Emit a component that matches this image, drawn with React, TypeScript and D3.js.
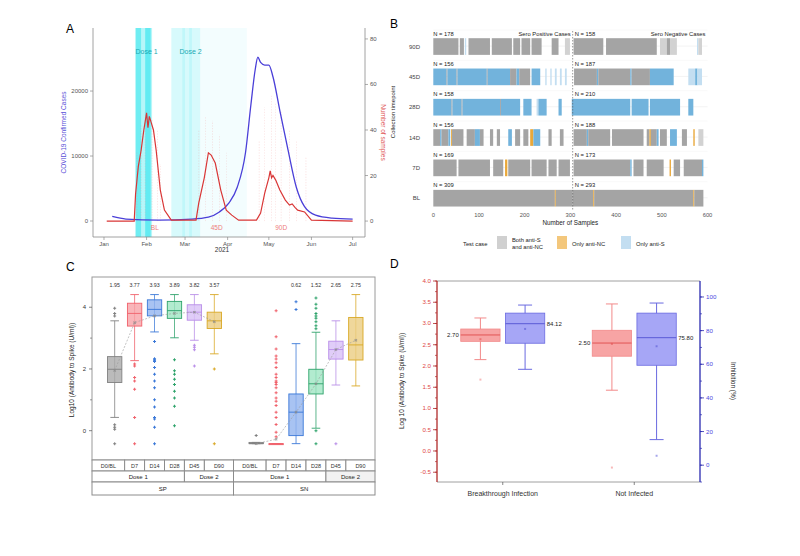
import React from "react";
import * as d3 from "d3";

const FONT = "'Liberation Sans', Arial, sans-serif";
const parse = d3.timeParse("%Y-%m-%d");

// ---------------- Panel A data ----------------
const caseDates = ["2021-01-07","2021-01-17","2021-02-10","2021-03-06","2021-03-18","2021-03-26","2021-04-02","2021-04-08","2021-04-14","2021-04-18","2021-04-21","2021-04-23","2021-04-25","2021-04-28","2021-05-01","2021-05-04","2021-05-09","2021-05-15","2021-05-21","2021-05-27","2021-06-04","2021-06-16","2021-07-01"];
const caseValues = [700,300,150,300,600,1400,2800,5200,10500,18000,23200,25200,24400,24000,24000,22200,17000,10900,5200,2200,900,450,300];
const sampleDates = ["2021-01-03","2021-01-23","2021-01-24","2021-01-26","2021-01-28","2021-01-30","2021-02-01","2021-02-02","2021-02-03","2021-02-04","2021-02-06","2021-02-08","2021-02-11","2021-02-14","2021-02-19","2021-03-09","2021-03-11","2021-03-15","2021-03-18","2021-03-20","2021-03-23","2021-03-27","2021-03-31","2021-04-04","2021-04-09","2021-04-22","2021-04-25","2021-04-28","2021-05-01","2021-05-02","2021-05-03","2021-05-04","2021-05-06","2021-05-09","2021-05-13","2021-05-16","2021-05-18","2021-05-20","2021-05-22","2021-05-27","2021-06-01","2021-07-01"];
const sampleValues = [0,0,12,24,31,40,47.5,41,46,44,40,31,13.6,4.8,0.4,0.4,8,19,30,29,25.5,13.6,4.8,2.6,0.4,0.4,3.5,12.3,19,22,19,20,18,13.6,9.2,7,7.5,6,4.8,4,0.4,0];
const monthTickDates = ["2021-01-01","2021-02-01","2021-03-01","2021-04-01","2021-05-01","2021-06-01","2021-07-01"];
const monthLabels = ["Jan","Feb","Mar","Apr","May","Jun","Jul"];
const casesTicks = [0, 10000, 20000];
const samplesTicks = [0, 20, 40, 60, 80];
const vaccBandStart = ["2021-01-24","2021-01-24","2021-01-31","2021-02-19","2021-02-27","2021-03-04","2021-03-12"];
const vaccBandEnd = ["2021-02-05","2021-01-28","2021-02-04","2021-03-12","2021-03-01","2021-03-06","2021-04-15"];
const vaccBandLevel = [2.2, 3, 3.5, 1.2, 0.8, 0.8, 0.35];
const doseLabels = ["Dose 1", "Dose 2"];
const doseLabelDates = ["2021-02-01", "2021-03-05"];
const collectLabels = ["BL", "45D", "90D"];
const collectLabelDates = ["2021-02-07", "2021-03-24", "2021-05-10"];
const sampleLineDates = ["2021-01-25","2021-01-28","2021-01-31","2021-02-05","2021-02-09","2021-02-11","2021-03-11","2021-03-16","2021-03-21","2021-03-26","2021-03-31","2021-04-24","2021-04-28","2021-05-03","2021-05-06","2021-05-10","2021-05-16","2021-05-21","2021-05-28"];
const sampleLineTops = [30,42,48,45,40,25,40,46,44,38,30,35,50,55,52,48,40,35,28];

// ---------------- Panel B data ----------------
const bRows = ["90D", "45D", "28D", "14D", "7D", "BL"];
const bNLeft = [178, 156, 158, 156, 169, 309];
const bNRight = [158, 187, 210, 188, 173, 293];
const bXTicks = [0, 100, 200, 300, 400, 500, 600];
const bSplit = 305;
const segs90D: [number, number, string][] = [[0,55,"g"],[58,67,"g"],[69,72,"lb"],[77,124,"g"],[128,172,"g"],[175,190,"g"],[193,212,"g"],[215,237,"g"],[259,274,"g"],[288,299,"l"],[307,372,"g"],[378,489,"g"],[496,511,"l"],[511,518,"g"],[518,533,"l"],[577,580,"lb"],[580,588,"l"]];
const segs45D: [number, number, string][] = [[0,29,"b"],[29,31,"g"],[31,51,"b"],[51,53,"g"],[53,117,"b"],[117,119,"g"],[119,168,"b"],[168,182,"g"],[182,188,"b"],[188,212,"g"],[215,234,"b"],[245,248,"lb"],[256,259,"lb"],[266,270,"lb"],[277,281,"lb"],[288,292,"lb"],[308,358,"g"],[358,361,"b"],[361,431,"g"],[431,434,"b"],[434,474,"g"],[474,526,"b"],[558,573,"lb"],[573,578,"b"],[578,588,"lb"]];
const segs28D: [number, number, string][] = [[0,40,"b"],[40,42,"g"],[42,62,"b"],[62,64,"g"],[64,146,"b"],[146,148,"g"],[148,190,"b"],[197,215,"b"],[226,230,"lb"],[230,248,"b"],[274,281,"b"],[303,431,"b"],[434,471,"b"],[474,540,"b"],[558,569,"b"]];
const segs14D: [number, number, string][] = [[0,15,"g"],[15,18,"b"],[18,33,"g"],[33,37,"b"],[39,41,"o"],[41,66,"g"],[73,91,"g"],[91,102,"b"],[102,110,"g"],[124,131,"g"],[139,146,"g"],[164,172,"b"],[179,190,"g"],[197,208,"g"],[212,219,"o"],[219,234,"b"],[252,259,"g"],[277,285,"g"],[307,336,"g"],[336,339,"b"],[339,387,"g"],[391,460,"g"],[467,473,"g"],[473,476,"o"],[476,489,"g"],[489,493,"b"],[496,511,"g"],[518,533,"b"],[544,555,"g"],[569,572,"o"],[580,591,"l"]];
const segs7D: [number, number, string][] = [[0,51,"g"],[55,124,"g"],[131,153,"g"],[157,162,"o"],[164,212,"g"],[215,248,"g"],[252,270,"g"],[274,299,"g"],[307,431,"g"],[431,434,"b"],[438,460,"g"],[467,504,"g"],[517,520,"o"],[526,540,"g"],[548,588,"g"],[588,591,"b"]];
const segsBL: [number, number, string][] = [[0,266,"g"],[266,268,"o"],[268,305,"g"],[305,350,"g"],[350,352,"o"],[352,569,"g"],[569,571,"o"],[571,591,"g"]];
const bSegs = [segs90D, segs45D, segs28D, segs14D, segs7D, segsBL];
const bColors: Record<string, string> = { g: "#a4a4a4", l: "#d2d2d2", o: "#e9a83a", b: "#72b3dc", lb: "#c3def1" };
const bLegendLabels = [["Both anti-S", "and anti-NC"], ["Only anti-NC"], ["Only anti-S"]];
const bLegendKeys = ["l", "oL", "lbL"];

// ---------------- Panel C data ----------------
const cGroups = ["SP", "SN"];
const cTimes = ["D0/BL", "D7", "D14", "D28", "D45", "D90"];
const cStroke = ["#808080", "#f0616b", "#3a78d8", "#2ea36b", "#b98ee8", "#d9a826"];
const cFill = ["#aaaaaa", "#f8a3a8", "#92b4ef", "#9fe6c3", "#d8c1f6", "#ebcd82"];
const spQ1 = [1.56, 3.39, 3.72, 3.64, 3.58, 3.31];
const spMed = [1.99, 3.8, 3.93, 3.89, 3.84, 3.56];
const spQ3 = [2.4, 4.13, 4.24, 4.19, 4.08, 3.84];
const spLo = [0.43, 2.27, 3.2, 3.01, 2.93, 2.49];
const spHi = [3.56, 4.41, 4.41, 4.41, 4.41, 4.41];
const spMean = [1.95, 3.5, 3.72, 3.8, 3.84, 3.53];
const spOut = [
  [3.97, 3.8, 3.72, 0.19, 0.11, 0.05, -0.42],
  [2.16, 2.1, 1.72, 1.61, 1.34, 0.43, -0.42],
  [2.89, 2.33, 2.3, 2.27, 2.24, 2.05, 1.83, 1.61, 1.39, 1.0, 0.77, 0.43, 0.38, 0.11, -0.42],
  [2.3, 1.94, 1.83, 1.67, 1.5, 1.28, 1.06, 0.79, 0.16],
  [2.77, 2.7, 2.62, 2.1],
  [2.0, -0.42],
];
const spLabels = ["1.95", "3.77", "3.93", "3.89", "3.82", "3.57"];
const snQ1 = [-0.42, -0.42, -0.16, 1.19, 2.32, 2.29];
const snMed = [-0.42, -0.42, 0.6, 1.52, 2.63, 2.78];
const snQ3 = [-0.38, -0.42, 1.19, 1.99, 2.9, 3.67];
const snLo = [-0.42, -0.42, -0.42, 0.08, 1.48, 1.45];
const snHi = [-0.38, -0.42, 2.82, 3.19, 3.56, 4.41];
const snMean = [-0.42, -0.28, 0.6, 1.52, 2.63, 2.93];
const snOut = [
  [-0.16],
  [3.89, 3.04, 2.65, 2.42, 2.32, 2.2, 2.05, 1.83, 1.72, 1.61, 1.56, 1.5, 1.39, 1.23, 1.06, 0.95, 0.82, 0.6, 0.43, 0.2, -0.05, -0.2],
  [4.18, 3.93],
  [4.3, 4.1, 3.97, 3.8, 3.72, 3.64, 3.53, 3.4, 3.3, 0.0, -0.42],
  [-0.42],
  [],
];
const snLabels = ["", "", "0.62", "1.52", "2.65", "2.75"];
const cYTicks = [0, 2, 4];
const cYMinor = [1, 3];
const cDoseSplit = 4; // first 4 timepoints are Dose 1

// ---------------- Panel D data ----------------
const dGroups = ["Breakthrough Infection", "Not Infected"];
const abQ1 = [2.58, 2.23], abMed = [2.73, 2.54], abQ3 = [2.87, 2.84], abLo = [2.15, 1.43], abHi = [3.13, 3.46], abMean = [2.63, 2.52];
const abOut = [[1.68], [-0.39]];
const abLabels = ["2.70", "2.50"];
const inQ1 = [72.5, 59.4], inMed = [84.12, 75.8], inQ3 = [90.4, 90.4], inLo = [57, 15.2], inHi = [95.2, 96.4], inMean = [81, 70.7];
const inOut = [[], [5.6]];
const inLabels = ["84.12", "75.80"];
const dLeftTicks = [-0.5, 0, 0.5, 1, 1.5, 2, 2.5, 3, 3.5, 4];
const dRightTicks = [0, 20, 40, 60, 80, 100];

function PanelA() {
  const x = d3.scaleTime().domain([parse("2020-12-24")!, parse("2021-07-10")!]).range([93, 365]);
  const yL = d3.scaleLinear().domain([-2460, 29700]).range([237, 28]);
  const yR = d3.scaleLinear().domain([-7, 84.8]).range([237, 28]);
  const caseLine = d3.line<number>().x((_, i) => x(parse(caseDates[i])!)).y((v) => yL(v)).curve(d3.curveMonotoneX);
  const sampLine = d3.line<number>().x((_, i) => x(parse(sampleDates[i])!)).y((v) => yR(v)).curve(d3.curveLinear);
  const [x0, x1] = x.range();
  const [yb, yt] = yL.range();
  return (
    <g fontFamily={FONT}>
      <text x={66} y={33} fontSize={12}>A</text>
      {vaccBandStart.map((s, i) => (
        <rect key={i} x={x(parse(s)!)} width={x(parse(vaccBandEnd[i])!) - x(parse(s)!)} y={yt} height={yb - yt} fill="#00dfe9" opacity={vaccBandLevel[i] * 0.13} />
      ))}
      {sampleLineDates.map((d, i) => (
        <line key={i} x1={x(parse(d)!)} x2={x(parse(d)!)} y1={yR(0)} y2={yR(sampleLineTops[i])} stroke="#f08a8a" strokeWidth={0.5} strokeDasharray="1.2,1.5" opacity={0.45} />
      ))}
      {doseLabels.map((t, i) => (
        <text key={t} x={x(parse(doseLabelDates[i])!)} y={54} fontSize={7} fill="#1aa9b3" textAnchor="middle">{t}</text>
      ))}
      {collectLabels.map((t, i) => (
        <text key={t} x={x(parse(collectLabelDates[i])!)} y={230} fontSize={6.5} fill="#ee7c7c" textAnchor="middle">{t}</text>
      ))}
      <path d={caseLine(caseValues) || ""} fill="none" stroke="#4a3fd8" strokeWidth={1.3} />
      <path d={sampLine(sampleValues) || ""} fill="none" stroke="#d93636" strokeWidth={1.2} />
      <line x1={x0} x2={x0} y1={yt} y2={yb} stroke="#8a8a8a" strokeWidth={0.8} />
      <line x1={x1} x2={x1} y1={yt} y2={yb} stroke="#8a8a8a" strokeWidth={0.8} />
      <line x1={x0} x2={x1} y1={yb} y2={yb} stroke="#8a8a8a" strokeWidth={0.8} />
      {casesTicks.map((t) => (
        <g key={t}>
          <line x1={x0 - 3} x2={x0} y1={yL(t)} y2={yL(t)} stroke="#8a8a8a" strokeWidth={0.7} />
          <text x={x0 - 5} y={yL(t) + 2} fontSize={6} fill="#555" textAnchor="end">{t}</text>
        </g>
      ))}
      {samplesTicks.map((t) => (
        <g key={t}>
          <line x1={x1} x2={x1 + 3} y1={yR(t)} y2={yR(t)} stroke="#8a8a8a" strokeWidth={0.7} />
          <text x={x1 + 5} y={yR(t) + 2} fontSize={6} fill="#555">{t}</text>
        </g>
      ))}
      {monthTickDates.map((d, i) => (
        <g key={d}>
          <line x1={x(parse(d)!)} x2={x(parse(d)!)} y1={yb} y2={yb + 3} stroke="#8a8a8a" strokeWidth={0.7} />
          <text x={x(parse(d)!)} y={yb + 9} fontSize={6} fill="#555" textAnchor="middle">{monthLabels[i]}</text>
        </g>
      ))}
      <text x={222} y={252} fontSize={6.5} fill="#333" textAnchor="middle">2021</text>
      <text transform={`translate(66,${(yt + yb) / 2}) rotate(-90)`} fontSize={6.5} fill="#5a4fd8" textAnchor="middle">COVID-19 Confirmed Cases</text>
      <text transform={`translate(381,${(yt + yb) / 2}) rotate(90)`} fontSize={6.5} fill="#e05555" textAnchor="middle">Number of samples</text>
    </g>
  );
}

function PanelB() {
  const x = d3.scaleLinear().domain([0, 600]).range([433.3, 707.5]);
  const y = d3.scaleBand<string>().domain(bRows).range([30, 212]);
  const bw = y.bandwidth();
  return (
    <g fontFamily={FONT}>
      <text x={390} y={28} fontSize={12}>B</text>
      {bRows.map((r) => (
        <g key={"grid" + r}>
          <line x1={x(0)} x2={x(600)} y1={y(r)! + bw * 0.53} y2={y(r)! + bw * 0.53} stroke="#ebebeb" strokeWidth={0.6} />
          <line x1={x(0)} x2={x(600)} y1={y(r)!} y2={y(r)!} stroke="#f2f2f2" strokeWidth={0.5} />
        </g>
      ))}
      {bRows.map((r, ri) => (
        <g key={r}>
          {bSegs[ri].map(([s, e, c], k) => (
            <rect key={k} x={x(s)} width={Math.max(0.6, x(e) - x(s))} y={y(r)! + bw * 0.27} height={bw * 0.55} fill={bColors[c]} />
          ))}
          <text x={x(0)} y={y(r)! + 5.5} fontSize={5.8} fill="#222">{`N = ${bNLeft[ri]}`}</text>
          <text x={x(bSplit) + 2} y={y(r)! + 5.5} fontSize={5.8} fill="#222">{`N = ${bNRight[ri]}`}</text>
          <text x={420} y={y(r)! + bw * 0.55 + 2} fontSize={6} fill="#444" textAnchor="end">{r}</text>
        </g>
      ))}
      <text x={x(bSplit) - 2} y={y(bRows[0])! + 5.5} fontSize={5.8} fill="#222" textAnchor="end">Sero Positive Cases</text>
      <text x={x(600) - 2} y={y(bRows[0])! + 5.5} fontSize={5.8} fill="#222" textAnchor="end">Sero Negative Cases</text>
      <line x1={x(bSplit)} x2={x(bSplit)} y1={31} y2={210} stroke="#555" strokeWidth={0.6} strokeDasharray="1.5,1.5" />
      {bXTicks.map((t) => (
        <text key={t} x={x(t)} y={217} fontSize={5.8} fill="#555" textAnchor="middle">{t}</text>
      ))}
      <text x={x(300)} y={225} fontSize={6.3} fill="#222" textAnchor="middle">Number of Samples</text>
      <text transform={`translate(395,112) rotate(-90)`} fontSize={6} fill="#222" textAnchor="middle">Collection timepoint</text>
      <text x={463} y={246} fontSize={5.8} fill="#222">Test case</text>
      {bLegendKeys.map((k, i) => {
        const sx = [497, 557, 621][i];
        const col = i === 0 ? "#d0d0d0" : i === 1 ? "#f3c77c" : "#c3def1";
        return (
          <g key={k}>
            <rect x={sx} y={236} width={10} height={13} fill={col} />
            {bLegendLabels[i].map((t, j) => (
              <text key={t} x={sx + 15} y={bLegendLabels[i].length > 1 ? 242 + j * 6.5 : 245.5} fontSize={5.8} fill="#222">{t}</text>
            ))}
          </g>
        );
      })}
    </g>
  );
}

function PanelC() {
  const fx = d3.scaleBand<string>().domain(cGroups).range([92, 375]);
  const y = d3.scaleLinear().domain([-0.95, 4.98]).range([460, 277]);
  const stats = [
    { q1: spQ1, med: spMed, q3: spQ3, lo: spLo, hi: spHi, mean: spMean, out: spOut, lab: spLabels },
    { q1: snQ1, med: snMed, q3: snQ3, lo: snLo, hi: snHi, mean: snMean, out: snOut, lab: snLabels },
  ];
  const fw = fx.bandwidth();
  return (
    <g fontFamily={FONT}>
      <text x={66} y={271} fontSize={12}>C</text>
      <rect x={92} y={277} width={283} height={183} fill="none" stroke="#9a9a9a" strokeWidth={1} />
      {cYTicks.map((t) => (
        <g key={t}>
          <line x1={89} x2={92} y1={y(t)} y2={y(t)} stroke="#555" strokeWidth={0.7} />
          <text x={86} y={y(t) + 2} fontSize={6} fill="#333" textAnchor="end">{t}</text>
        </g>
      ))}
      {cYMinor.map((t) => (
        <line key={t} x1={90} x2={92} y1={y(t)} y2={y(t)} stroke="#555" strokeWidth={0.6} />
      ))}
      <text transform={`translate(74,370) rotate(-90)`} fontSize={6.5} fill="#222" textAnchor="middle">Log10 (Antibody to Spike (U/ml))</text>
      {cGroups.map((g, gi) => {
        const x = d3.scaleBand<string>().domain(cTimes).range([fx(g)! + 15.5, fx(g)! + fw - 12]).paddingInner(0.28);
        const s = stats[gi];
        const bw = x.bandwidth();
        const cx = (t: string) => x(t)! + bw / 2;
        const meanLine = d3.line<number>().x((_, i) => cx(cTimes[i])).y((v) => y(v));
        const bounds = [fx(g)!, ...cTimes.slice(1).map((t, i) => (cx(cTimes[i]) + cx(t)) / 2), fx(g)! + fw];
        return (
          <g key={g}>
            {cTimes.map((t, i) => {
              const c = cx(t);
              return (
                <g key={t}>
                  <line x1={c} x2={c} y1={y(s.lo[i])} y2={y(s.hi[i])} stroke={cStroke[i]} strokeWidth={0.9} opacity={0.85} />
                  <line x1={c - bw * 0.3} x2={c + bw * 0.3} y1={y(s.hi[i])} y2={y(s.hi[i])} stroke={cStroke[i]} strokeWidth={0.9} />
                  <line x1={c - bw * 0.3} x2={c + bw * 0.3} y1={y(s.lo[i])} y2={y(s.lo[i])} stroke={cStroke[i]} strokeWidth={0.9} />
                  <rect x={c - bw / 2} width={bw} y={y(s.q3[i])} height={Math.max(1, y(s.q1[i]) - y(s.q3[i]))} fill={cFill[i]} fillOpacity={0.8} stroke={cStroke[i]} strokeWidth={0.9} />
                  <line x1={c - bw / 2} x2={c + bw / 2} y1={y(s.med[i])} y2={y(s.med[i])} stroke={cStroke[i]} strokeWidth={0.9} />
                  {s.out[i].map((v, k) => (
                    <path key={k} d={d3.symbol(d3.symbolCross, 5)() || ""} transform={`translate(${c},${y(v)})`} fill={cStroke[i]} />
                  ))}
                  <text x={c} y={287} fontSize={5.3} fill="#333" textAnchor="middle">{s.lab[i]}</text>
                </g>
              );
            })}
            <path d={meanLine(s.mean) || ""} fill="none" stroke="#9a9a9a" strokeWidth={0.6} strokeDasharray="2,1.5" />
            {cTimes.map((t, i) => (
              <path key={"m" + t} d={d3.symbol(d3.symbolCross, 6)() || ""} transform={`translate(${cx(t)},${y(s.mean[i])}) rotate(45)`} fill="#888" opacity={0.7} />
            ))}
            {cTimes.map((t, i) => (
              <g key={"s" + t}>
                <rect x={bounds[i]} y={460} width={bounds[i + 1] - bounds[i]} height={11} fill="#fff" stroke="#8c8c8c" strokeWidth={1} />
                <text x={(bounds[i] + bounds[i + 1]) / 2} y={467.7} fontSize={5.5} fill="#333" textAnchor="middle">{t}</text>
              </g>
            ))}
            {[0, 1].map((k) => {
              const a = k === 0 ? bounds[0] : bounds[cDoseSplit];
              const b = k === 0 ? bounds[cDoseSplit] : bounds[6];
              return (
                <g key={"d" + k}>
                  <rect x={a} y={471} width={b - a} height={11} fill={gi === 1 && k === 1 ? "#f2f2f2" : "#fff"} stroke="#8c8c8c" strokeWidth={1} />
                  <text x={(a + b) / 2} y={478.8} fontSize={6} fill="#222" textAnchor="middle">{k === 0 ? "Dose 1" : "Dose 2"}</text>
                </g>
              );
            })}
            <rect x={bounds[0]} y={482} width={bounds[6] - bounds[0]} height={13} fill="#fff" stroke="#8c8c8c" strokeWidth={1} />
            <text x={(bounds[0] + bounds[6]) / 2} y={490.5} fontSize={6} fill="#222" textAnchor="middle">{g}</text>
          </g>
        );
      })}
    </g>
  );
}

function PanelD() {
  const fx = d3.scaleBand<string>().domain(dGroups).range([437, 700]);
  const yL = d3.scaleLinear().domain([-0.73, 4.0]).range([482, 281]);
  const yR = d3.scaleLinear().domain([-10, 109.5]).range([482, 281]);
  const inner = d3.scaleBand<string>().domain(["ab", "in"]).range([-42, 42]).paddingInner(0.12);
  const bw = inner.bandwidth();
  const series = [
    { key: "ab", y: yL, q1: abQ1, med: abMed, q3: abQ3, lo: abLo, hi: abHi, mean: abMean, out: abOut, lab: abLabels, fill: "#f7a4a4", stroke: "#f28a8a", medc: "#e25555", side: -1 },
    { key: "in", y: yR, q1: inQ1, med: inMed, q3: inQ3, lo: inLo, hi: inHi, mean: inMean, out: inOut, lab: inLabels, fill: "#a6a6f6", stroke: "#6a6ae0", medc: "#5a5ad6", side: 1 },
  ];
  const minorL = d3.range(-0.75, 4.01, 0.25).filter((v) => v >= -0.73);
  const minorR = d3.range(-10, 109, 10);
  return (
    <g fontFamily={FONT}>
      <text x={390} y={268} fontSize={12}>D</text>
      <line x1={437} x2={700} y1={281} y2={281} stroke="#a0a0a0" strokeWidth={1} />
      <line x1={437} x2={700} y1={482} y2={482} stroke="#a0a0a0" strokeWidth={1} />
      {dGroups.map((g, gi) => {
        const c0 = fx(g)! + fx.bandwidth() / 2;
        return (
          <g key={g}>
            <line x1={c0} x2={c0} y1={482} y2={485} stroke="#555" strokeWidth={0.7} />
            <text x={c0} y={496} fontSize={7} fill="#333" textAnchor="middle">{g}</text>
            {series.map((s) => {
              const c = c0 + inner(s.key)! + bw / 2;
              const cap = s.key === "ab" ? 6 : 7;
              return (
                <g key={s.key}>
                  <line x1={c} x2={c} y1={s.y(s.lo[gi])} y2={s.y(s.hi[gi])} stroke={s.stroke} strokeWidth={1} />
                  <line x1={c - cap} x2={c + cap} y1={s.y(s.hi[gi])} y2={s.y(s.hi[gi])} stroke={s.stroke} strokeWidth={1} />
                  <line x1={c - cap} x2={c + cap} y1={s.y(s.lo[gi])} y2={s.y(s.lo[gi])} stroke={s.stroke} strokeWidth={1} />
                  <rect x={c - bw / 2} width={bw} y={s.y(s.q3[gi])} height={s.y(s.q1[gi]) - s.y(s.q3[gi])} fill={s.fill} stroke={s.stroke} strokeWidth={0.8} />
                  <line x1={c - bw / 2} x2={c + bw / 2} y1={s.y(s.med[gi])} y2={s.y(s.med[gi])} stroke={s.medc} strokeWidth={1} />
                  <rect x={c - 1} y={s.y(s.mean[gi]) - 1} width={2} height={2} fill={s.medc} opacity={0.6} />
                  {s.out[gi].map((v, k) => (
                    <rect key={k} x={c - 1} y={s.y(v) - 1} width={2} height={2} fill={s.stroke} opacity={0.6} />
                  ))}
                  <text x={s.side < 0 ? c - bw / 2 - 2 : c + bw / 2 + 2} y={s.y(s.med[gi]) + 2} fontSize={6} fill="#222" textAnchor={s.side < 0 ? "end" : "start"}>{s.lab[gi]}</text>
                </g>
              );
            })}
          </g>
        );
      })}
      <line x1={437} x2={437} y1={281} y2={482} stroke="#b02a2a" strokeWidth={1.3} />
      {minorL.map((v) => (
        <line key={"ml" + v} x1={435} x2={437} y1={yL(v)} y2={yL(v)} stroke="#b02a2a" strokeWidth={0.7} />
      ))}
      {dLeftTicks.map((t) => (
        <g key={t}>
          <line x1={433} x2={437} y1={yL(t)} y2={yL(t)} stroke="#b02a2a" strokeWidth={0.8} />
          <text x={431} y={yL(t) + 2} fontSize={6.2} fill="#e04848" textAnchor="end">{t.toFixed(1)}</text>
        </g>
      ))}
      <line x1={700} x2={700} y1={281} y2={482} stroke="#2a2ab0" strokeWidth={1.3} />
      {minorR.map((v) => (
        <line key={"mr" + v} x1={700} x2={702} y1={yR(v)} y2={yR(v)} stroke="#2a2ab0" strokeWidth={0.7} />
      ))}
      {dRightTicks.map((t) => (
        <g key={t}>
          <line x1={700} x2={704} y1={yR(t)} y2={yR(t)} stroke="#2a2ab0" strokeWidth={0.8} />
          <text x={706} y={yR(t) + 2} fontSize={6.2} fill="#4a4ae0">{t}</text>
        </g>
      ))}
      <text transform={`translate(404,381) rotate(-90)`} fontSize={6.5} fill="#222" textAnchor="middle">Log 10 (Antibody to Spike (U/ml))</text>
      <text transform={`translate(731,381) rotate(90)`} fontSize={6.5} fill="#222" textAnchor="middle">Inhibition (%)</text>
    </g>
  );
}

export default function App() {
  return (
    <div style={{ position: "absolute", left: 0, top: 0, width: 800, height: 556, background: "#fff" }}>
      <svg width={800} height={556} viewBox="0 0 800 556">
        <rect width={800} height={556} fill="#fff" />
        <PanelA />
        <PanelB />
        <PanelC />
        <PanelD />
      </svg>
    </div>
  );
}
